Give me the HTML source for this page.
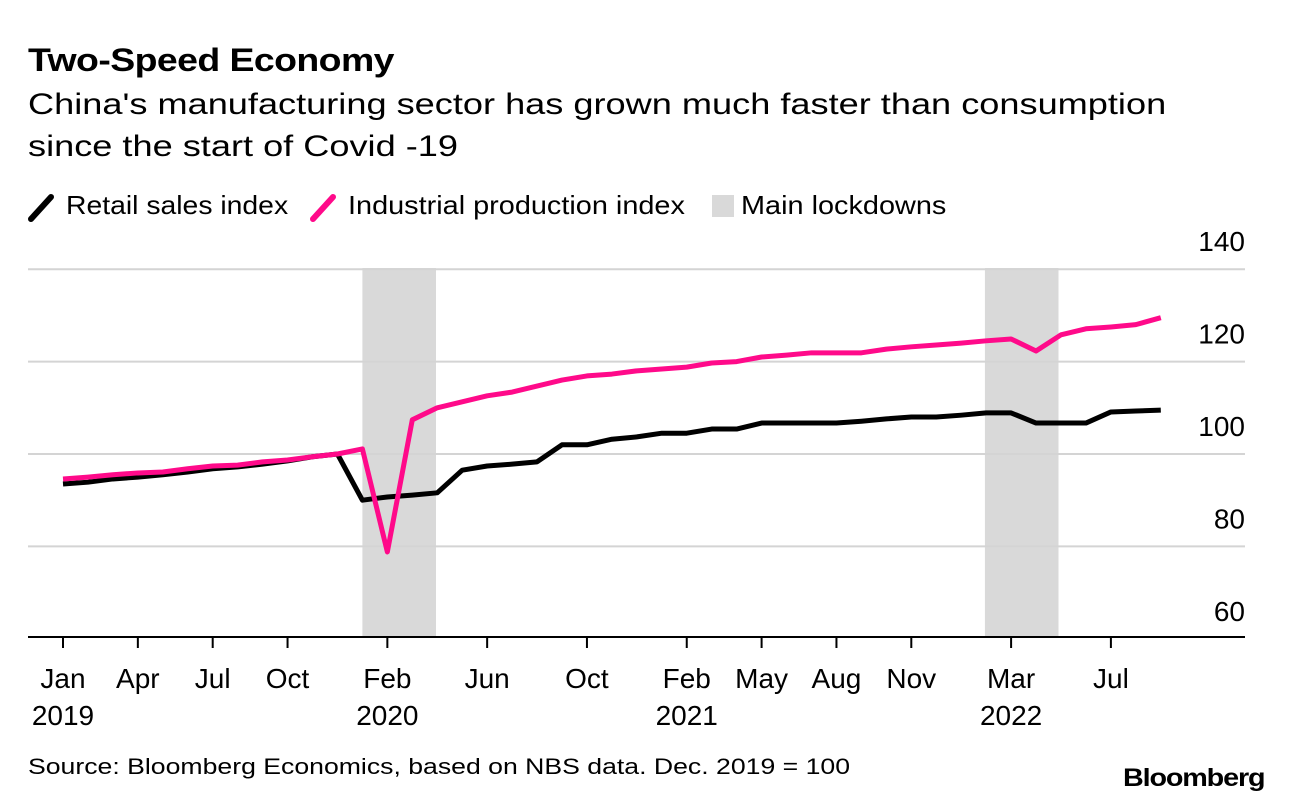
<!DOCTYPE html>
<html><head><meta charset="utf-8"><style>
body{margin:0;background:#fff;font-family:"Liberation Sans",sans-serif;}
#wrap{position:relative;width:1292px;height:806px;overflow:hidden;}
.t{position:absolute;white-space:nowrap;color:#000;transform-origin:0 0;}
</style></head><body>
<div id="wrap">
<div class="t" style="left:28px;top:42px;font-size:32px;font-weight:bold;letter-spacing:-0.5px;transform:scaleX(1.17)">Two-Speed Economy</div>
<div class="t" style="left:28px;top:84px;font-size:30px;line-height:42px;transform:scaleX(1.205)">China's manufacturing sector has grown much faster than consumption<br>since the start of Covid -19</div>
<div style="position:absolute;left:28px;top:188px;height:36px;font-size:26px">
 <span style="position:absolute;left:0;top:0;white-space:nowrap"><svg width="30" height="36" style="position:absolute;left:0;top:0"><line x1="3" y1="31" x2="23" y2="9" stroke="#000" stroke-width="6" stroke-linecap="round"/></svg><span class="t" style="left:38px;top:2px;transform:scaleX(1.09)">Retail sales index</span></span>
 <span style="position:absolute;left:282px;top:0;white-space:nowrap"><svg width="30" height="36" style="position:absolute;left:0;top:0"><line x1="3" y1="31" x2="23" y2="9" stroke="#ff0a8a" stroke-width="6" stroke-linecap="round"/></svg><span class="t" style="left:38px;top:2px;transform:scaleX(1.11)">Industrial production index</span></span>
 <span style="position:absolute;left:684px;top:0;white-space:nowrap"><span style="position:absolute;left:0;top:7px;width:22px;height:22px;background:#d9d9d9"></span><span class="t" style="left:29px;top:2px;transform:scaleX(1.11)">Main lockdowns</span></span>
</div>
<svg id="chart" width="1292" height="806" style="position:absolute;left:0;top:0"></svg>
<div class="t" style="left:28px;top:754px;font-size:22px;transform:scaleX(1.21)">Source: Bloomberg Economics, based on NBS data. Dec. 2019 = 100</div>
<div class="t" style="left:1123px;top:764px;font-size:25px;font-weight:bold;letter-spacing:-1px;transform:scaleX(1.15)">Bloomberg</div>
</div>
<script>
const retail=[93.5,93.9,94.6,95,95.5,96.1,96.8,97.2,97.8,98.5,99.4,100,90,90.7,91.1,91.6,96.5,97.4,97.8,98.3,102,102,103.2,103.7,104.5,104.5,105.4,105.4,106.7,106.7,106.7,106.7,107.1,107.6,108,108,108.4,108.9,108.9,106.7,106.7,106.7,109.1,109.3,109.5];
const industrial=[94.6,95,95.5,95.9,96.1,96.8,97.4,97.6,98.3,98.7,99.4,100,101.1,78.8,107.4,110,111.3,112.6,113.4,114.7,116,116.9,117.3,118,118.4,118.8,119.7,120,121,121.4,121.9,121.9,121.9,122.7,123.2,123.6,124,124.5,124.9,122.3,125.8,127.1,127.5,128,129.5];
const yTicks=[140,120,100,80,60];
const xTickMonths=[0,3,6,9,13,17,21,25,28,31,34,38,42];
const xTickLabels=["Jan","Apr","Jul","Oct","Feb","Jun","Oct","Feb","May","Aug","Nov","Mar","Jul"];
const yearMonths=[0,13,25,38];
const yearLabels=["2019","2020","2021","2022"];
const lockdowns=[[12,14.95],[36.95,39.9]];
const NS="http://www.w3.org/2000/svg",svg=document.getElementById('chart');
const x=m=>63+m*24.95, y=v=>454-(v-100)*4.62;
function el(t,a){const e=document.createElementNS(NS,t);for(const k in a)e.setAttribute(k,a[k]);svg.appendChild(e);return e;}
lockdowns.forEach(l=>{const r=el('rect',{x:x(l[0]),y:268,width:x(l[1])-x(l[0]),height:369,fill:'#d9d9d9'});

});
yTicks.forEach(v=>{if(v>60){const g=el('line',{x1:28,x2:1245,y1:y(v),y2:y(v),stroke:'#d4d4d4','stroke-width':2});

}
const t=el('text',{x:1245,y:y(v)-18,'text-anchor':'end','font-size':28,'font-family':'Liberation Sans'});t.textContent=v;

});
const ax=el('line',{x1:28,x2:1245,y1:637,y2:637,stroke:'#000','stroke-width':2});


xTickMonths.forEach((m,i)=>{const tk=el('line',{x1:x(m),x2:x(m),y1:637,y2:648,stroke:'#000','stroke-width':2});


const t=el('text',{x:x(m),y:688,'text-anchor':'middle','font-size':28,'font-family':'Liberation Sans'});t.textContent=xTickLabels[i];

});
yearMonths.forEach((m,i)=>{const t=el('text',{x:x(m),y:725,'text-anchor':'middle','font-size':28,'font-family':'Liberation Sans'});t.textContent=yearLabels[i];

});
function line(d,c,n){const p=el('polyline',{points:d.map((v,i)=>x(i)+','+y(v)).join(' '),fill:'none',stroke:c,'stroke-width':5,'stroke-linejoin':'round'});

}
line(retail,'#000','retail-sales-line');
line(industrial,'#ff0a8a','industrial-production-line');
</script>
</body></html>
